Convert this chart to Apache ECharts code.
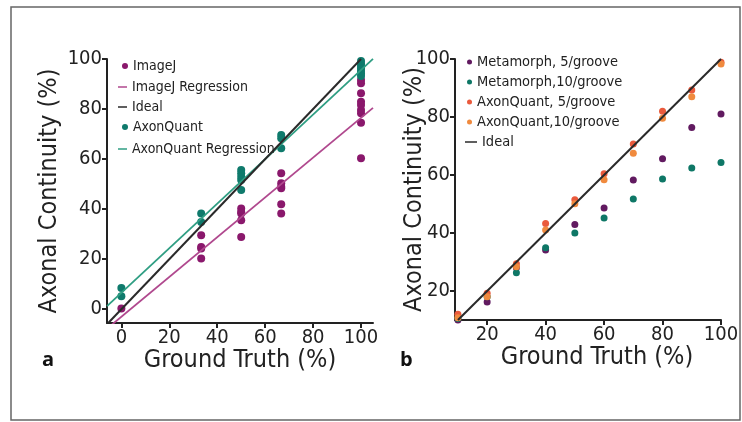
<!DOCTYPE html>
<html>
<head>
<meta charset="utf-8">
<script src="https://cdn.jsdelivr.net/npm/echarts@6/dist/echarts.min.js"></script>
<style>
  html, body { margin: 0; padding: 0; background: #fff; }
  #chart { width: 742px; height: 422px; }
</style>
</head>
<body>
<div id="chart"></div>
<script>
// panel a: ground truth levels and measured continuity
const imagejPoints = [
  [0, 0.3],
  [33.3, 29.6], [33.3, 24.9], [33.3, 24.3], [33.3, 20.3],
  [50, 40.3], [50, 38.9], [50, 38.3], [50, 35.6], [50, 28.9],
  [66.7, 54.3], [66.7, 50.3], [66.7, 48.9], [66.7, 48.3], [66.7, 42], [66.7, 38.3],
  [100, 91.6], [100, 90.3], [100, 86.3], [100, 82.9], [100, 81.6], [100, 79.6], [100, 78.3], [100, 74.5], [100, 60.3]
];
const axonquantPoints = [
  [0, 8.5], [0, 5.2],
  [33.3, 38.3], [33.3, 34.9],
  [50, 55.6], [50, 54.3], [50, 52.9], [50, 51.6], [50, 47.6],
  [66.7, 69.6], [66.7, 68.3], [66.7, 64.3],
  [100, 99.2], [100, 98.2], [100, 97.2], [100, 96.2], [100, 95.2], [100, 94.2], [100, 93.2]
];
// regression fits: [slope, intercept]
const imagejFit = [0.795, -3];
const axonquantFit = [0.89, 6.6];
const fitRangeA = [-6, 105];
const idealRangeA = [-5.5, 100];
const ticksA = [0, 20, 40, 60, 80, 100];

// panel b: dilution levels
const levelsB = [10, 20, 30, 40, 50, 60, 70, 80, 90, 100];
const meta5 = [10, 16.2, 28, 34.1, 42.9, 48.6, 58.3, 65.6, 76.4, 81];
const meta10 = [10.5, 18, 26.3, 34.9, 40, 45.2, 51.7, 58.6, 62.4, 64.3];
const aq5 = [12, 19.2, 29.4, 43.3, 51.5, 60.4, 70.7, 82, 89.3, 98.9];
const aq10 = [10.8, 18, 28.4, 41, 50.1, 58.4, 67.5, 79.6, 87, 98.3];
const idealRangeB = [10, 100];
const ticksB = [20, 40, 60, 80, 100];

const FONT = "'DejaVu Sans Condensed', 'Liberation Sans Narrow', sans-serif";
const INK = '#222';

function fitLine(fit, range) {
  return range.map(x => [x, fit[0] * x + fit[1]]);
}
function pairs(xs, ys) {
  return xs.map((x, i) => [x, ys[i]]);
}

function valueAxis(idx, min, max, ticks, name, gap, namePad) {
  return {
    type: 'value',
    gridIndex: idx,
    min: min,
    max: max,
    name: name,
    nameLocation: 'middle',
    nameGap: gap,
    nameMoveOverlap: false,
    nameTextStyle: {fontFamily: FONT, fontSize: 25, color: INK, padding: namePad || 0},
    axisLine: {show: true, onZero: false, lineStyle: {color: INK, width: 2}},
    axisTick: {show: true, length: 5, lineStyle: {color: INK, width: 2}, customValues: ticks},
    axisLabel: {fontFamily: FONT, fontSize: 20, color: INK, margin: 5, customValues: ticks},
    splitLine: {show: false}
  };
}

const legendText = size => ({fontFamily: FONT, fontSize: size, color: INK, lineHeight: 20, padding: 0});
const dotLegend = (names, left, top, size, fs) => ({
  data: names.map(n => ({name: n, icon: 'circle'})),
  orient: 'vertical', left: left, top: top,
  itemWidth: size, itemHeight: size, itemGap: 0,
  selectedMode: false,
  textStyle: legendText(fs)
});
const lineLegend = (names, left, top, width, fs) => ({
  data: names.map(n => ({name: n, icon: 'rect'})),
  orient: 'vertical', left: left, top: top,
  itemWidth: width, itemHeight: 1.5, itemGap: 0,
  selectedMode: false,
  textStyle: legendText(fs)
});

const chart = echarts.init(document.getElementById('chart'), null, {renderer: 'canvas'});

chart.setOption({
  animation: false,
  backgroundColor: '#fff',
  grid: [
    {left: 107, right: 369, top: 59, bottom: 99},
    {left: 455, right: 21, top: 59, bottom: 102}
  ],
  xAxis: [
    valueAxis(0, -6, 105, ticksA, 'Ground Truth (%)', 25),
    valueAxis(1, 9, 100, ticksB, 'Ground Truth (%)', 25, [0, 0, 0, 18])
  ],
  yAxis: [
    valueAxis(0, -5.5, 100, ticksA, 'Axonal Continuity (%)', 45),
    valueAxis(1, 10, 100, ticksB, 'Axonal Continuity (%)', 28)
  ],
  legend: [
    dotLegend(['ImageJ'], 117, 51, 6, 14),
    lineLegend(['ImageJ Regression', 'Ideal'], 113, 72, 9, 14),
    dotLegend(['AxonQuant'], 117, 112, 6, 14),
    lineLegend(['AxonQuant Regression'], 113, 134, 9, 14),
    dotLegend(['Metamorph, 5/groove', 'Metamorph,10/groove', 'AxonQuant, 5/groove', 'AxonQuant,10/groove'], 462, 47, 5, 14.5),
    lineLegend(['Ideal'], 460, 127, 12, 14.5)
  ],
  series: [
    {name: 'ImageJ Regression', type: 'line', xAxisIndex: 0, yAxisIndex: 0, data: fitLine(imagejFit, fitRangeA),
     color: '#b0488e', symbol: 'none', lineStyle: {width: 1.8}},
    {name: 'AxonQuant Regression', type: 'line', xAxisIndex: 0, yAxisIndex: 0, data: fitLine(axonquantFit, fitRangeA),
     color: '#2f9e83', symbol: 'none', lineStyle: {width: 1.8}},
    {name: 'Ideal', type: 'line', xAxisIndex: 0, yAxisIndex: 0, data: idealRangeA.map(v => [v, v]),
     color: '#2a2a2a', symbol: 'none', lineStyle: {width: 2}},
    {name: 'ImageJ', type: 'scatter', xAxisIndex: 0, yAxisIndex: 0, data: imagejPoints,
     color: '#8a186c', symbolSize: 8, itemStyle: {opacity: 1}},
    {name: 'AxonQuant', type: 'scatter', xAxisIndex: 0, yAxisIndex: 0, data: axonquantPoints,
     color: '#0f7a6c', symbolSize: 8, itemStyle: {opacity: 1}},

    {name: 'Metamorph, 5/groove', type: 'scatter', xAxisIndex: 1, yAxisIndex: 1, data: pairs(levelsB, meta5),
     color: '#611a60', symbolSize: 7, itemStyle: {opacity: 1}},
    {name: 'Metamorph,10/groove', type: 'scatter', xAxisIndex: 1, yAxisIndex: 1, data: pairs(levelsB, meta10),
     color: '#0e7766', symbolSize: 7, itemStyle: {opacity: 1}},
    {name: 'AxonQuant, 5/groove', type: 'scatter', xAxisIndex: 1, yAxisIndex: 1, data: pairs(levelsB, aq5),
     color: '#ea5a3c', symbolSize: 7, itemStyle: {opacity: 1}},
    {name: 'AxonQuant,10/groove', type: 'scatter', xAxisIndex: 1, yAxisIndex: 1, data: pairs(levelsB, aq10),
     color: '#f08a3e', symbolSize: 7, itemStyle: {opacity: 1}},
    {name: 'Ideal', type: 'line', xAxisIndex: 1, yAxisIndex: 1, data: idealRangeB.map(v => [v, v]),
     color: '#2a2a2a', symbol: 'none', lineStyle: {width: 2}, z: 3}
  ],
  graphic: [
    {type: 'rect', shape: {x: 11, y: 7, width: 729, height: 413}, style: {fill: 'none', stroke: '#666', lineWidth: 1.5}, silent: true},
    {type: 'text', left: 42, top: 350, style: {text: 'a', font: "bold 20px 'Open Sans', sans-serif", fill: '#111'}},
    {type: 'text', left: 400, top: 350, style: {text: 'b', font: "bold 20px 'Open Sans', sans-serif", fill: '#111'}}
  ]
});
</script>
</body>
</html>
